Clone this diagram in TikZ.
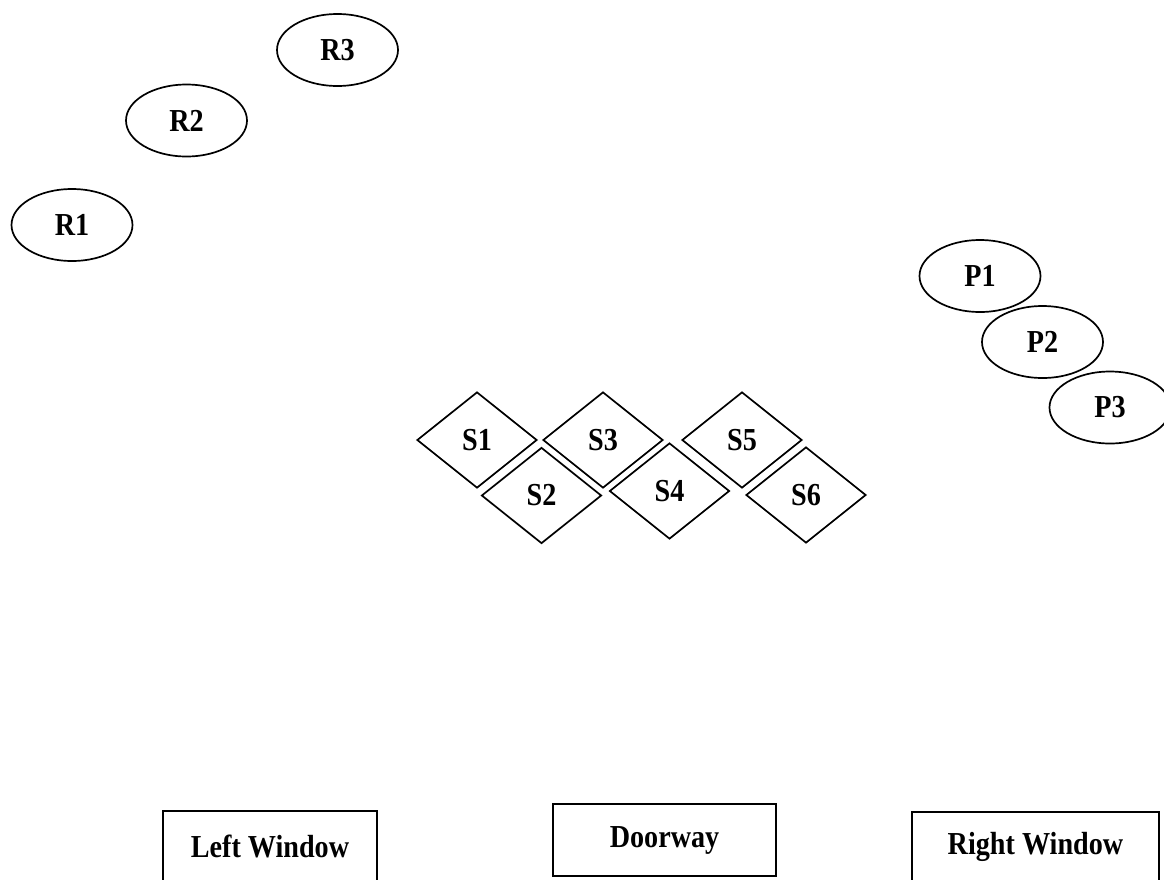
\documentclass[tikz,border=0pt]{standalone}
\usepackage{fontspec}
\setmainfont{Liberation Serif}
\newfontfamily\labfont{Liberation Serif}[FakeStretch=0.88]
\usetikzlibrary{shapes.geometric}
\begin{document}
\begin{tikzpicture}[x=1pt,y=-1pt,line width=1.7pt,
  lab/.style={font=\labfont\bfseries\fontsize{32}{32}\selectfont},
  oval/.style={draw,ellipse,lab,minimum width=121pt,minimum height=72pt,inner sep=0pt},
  seat/.style={draw,diamond,lab,minimum width=120pt,minimum height=96pt,inner sep=0pt,aspect=1.25},
  box/.style={draw,rectangle,lab,inner sep=0pt}]
\useasboundingbox (0,0) rectangle (1164,879);
\clip (0,0) rectangle (1164,879);
% ellipses
\node[oval] (R3) at (337.5,50) {R3};
\node[oval] (R2) at (186.5,120.5) {R2};
\node[oval] (R1) at (72,225) {R1};
\node[oval] (P1) at (980,276) {P1};
\node[oval] (P2) at (1042.5,342) {P2};
\node[oval] (P3) at (1110,407.5) {P3};
% diamonds
\node[seat] (S1) at (477,440) {S1};
\node[seat] (S3) at (603,440) {S3};
\node[seat] (S5) at (742,440) {S5};
\node[seat] (S2) at (541.5,495.5) {S2};
\node[seat] (S4) at (669.5,491) {S4};
\node[seat] (S6) at (806,495) {S6};
% boxes
\node[box,minimum width=214pt,minimum height=70pt] (LW) at (270,846) {Left Window};
\node[box,minimum width=223pt,minimum height=72pt] (DW) at (664.5,840) {Doorway};
\node[box,minimum width=247pt,minimum height=70pt] (RW) at (1035.5,847) {Right Window};
\end{tikzpicture}
\end{document}
